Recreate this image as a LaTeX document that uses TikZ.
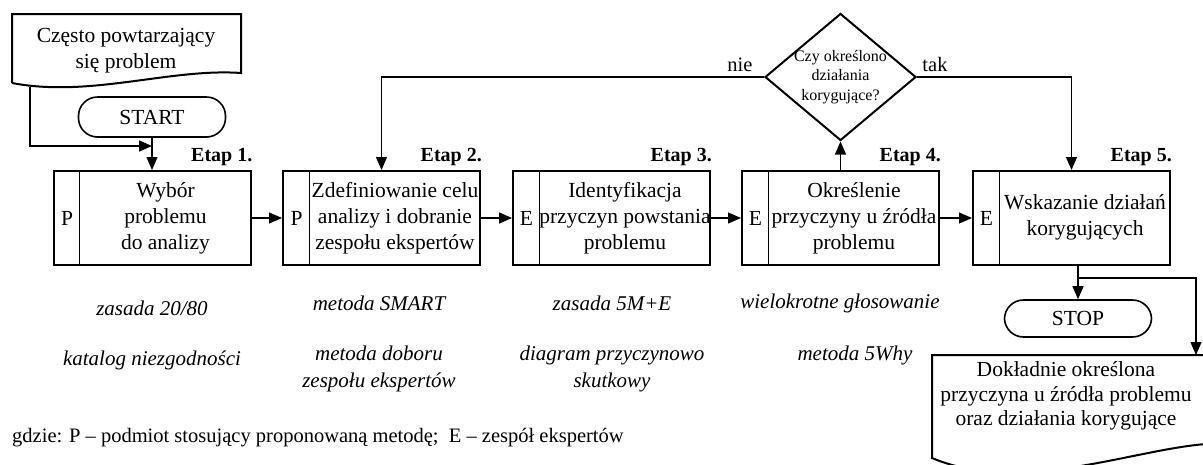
\documentclass[tikz,border=0pt]{standalone}
\usepackage{fontspec}
\setmainfont{Liberation Serif}
\usetikzlibrary{shapes.geometric,arrows.meta}
\begin{document}
\begin{tikzpicture}[x=1pt,y=-1pt,
  box/.style={draw,line width=2pt,minimum width=197pt,minimum height=94pt,inner sep=0pt},
  divider/.style={line width=1pt},
  maintxt/.style={align=center,inner sep=0pt,font=\fontsize{21.5}{26}\selectfont},
  letter/.style={inner sep=0pt,font=\fontsize{21.5}{26}\selectfont},
  etap/.style={inner sep=0pt,anchor=base east,font=\fontsize{20}{24}\selectfont\bfseries},
  term/.style={draw,line width=1.6pt,rounded corners=19pt,minimum width=147pt,inner sep=0pt,font=\fontsize{21.5}{26}\selectfont},
  docline/.style={line width=2pt,line join=miter},
  conn/.style={line width=1.2pt,-{Triangle[length=13pt,width=11pt]}},
  plain/.style={line width=1.2pt},
  dec/.style={draw,diamond,line width=2pt,minimum width=151pt,minimum height=127pt,inner sep=0pt},
  dectxt/.style={align=center,inner sep=0pt,font=\fontsize{16}{19.5}\selectfont},
  lbl/.style={inner sep=0pt,font=\fontsize{20.5}{24}\selectfont},
  meth/.style={align=center,inner sep=0pt,font=\fontsize{21}{27}\selectfont\itshape},
  note/.style={inner sep=0pt,anchor=west,font=\fontsize{20.5}{24}\selectfont}
]
\useasboundingbox (0,0) rectangle (1203,464);

% input document
\draw[docline] (12,83) -- (12,14) -- (241,14) -- (241,73) .. controls (170,68) and (90,98) .. (12,83);
\node[maintxt] (docA) at (126,51) {Często powtarzający\\się problem};
\coordinate (dA) at (30,86.5);

% start
\node[term,minimum height=40pt] (start) at (152,117) {START};

% boxes
\foreach \n/\cx in {1/152,2/381.5,3/611.5,4/840.5,5/1071.5}{
  \node[box] (b\n) at (\cx,218) {};
  \draw[divider] ([xshift=27pt]b\n.north west) -- ([xshift=27pt]b\n.south west);
  \node[etap] (e\n) at ([xshift=1pt,yshift=8.5pt]b\n.north east) {Etap \n.};
}
\node[letter] (l1) at ([xshift=-85pt]b1.center) {P};
\node[letter] (l2) at ([xshift=-85pt]b2.center) {P};
\node[letter] (l3) at ([xshift=-85pt]b3.center) {E};
\node[letter] (l4) at ([xshift=-85pt]b4.center) {E};
\node[letter] (l5) at ([xshift=-85pt]b5.center) {E};
\node[maintxt] (t1) at ([xshift=13.5pt]b1.center) {Wybór\\problemu\\do analizy};
\node[maintxt] (t2) at ([xshift=13.5pt]b2.center) {Zdefiniowanie celu\\analizy i dobranie\\zespołu ekspertów};
\node[maintxt] (t3) at ([xshift=13.5pt]b3.center) {Identyfikacja\\przyczyn powstania\\problemu};
\node[maintxt] (t4) at ([xshift=13.5pt]b4.center) {Określenie\\przyczyny u źródła\\problemu};
\node[maintxt] (t5) at ([xshift=13.5pt,yshift=1pt]b5.center) {Wskazanie działań\\korygujących};

% decision
\node[dec] (dec) at (840.5,77) {};
\node[dectxt] (dect) at (dec.center) {Czy określono\\działania\\korygujące?};
\node[lbl] (nie) at (740,65) {nie};
\node[lbl] (tak) at (935,64) {tak};

% stop and output document
\node[term,minimum height=37pt] (stop) at (1078,318.5) {STOP};
\draw[docline] (932,355) -- (932,458) .. controls (1020,495) and (1130,450) .. (1206,444) -- (1206,355) -- cycle;
\node[maintxt,font=\fontsize{21.5}{24.5}\selectfont] (docB) at (1066,396) {Dokładnie określona\\przyczyna u źródła problemu\\oraz działania korygujące};

% connectors
\coordinate (j1) at (152,146);
\draw[conn] (start.south) -- (b1.north);
\draw[conn] (dA) |- (j1);
\draw[conn] (b1.east) -- (b2.west);
\draw[conn] (b2.east) -- (b3.west);
\draw[conn] (b3.east) -- (b4.west);
\draw[conn] (b4.east) -- (b5.west);
\draw[conn] (b4.north) -- (dec.south);
\draw[conn] (dec.west) -| (b2.north);
\draw[conn] (dec.east) -| (b5.north);
\draw[conn] (stop.north |- b5.south) -- (stop.north);
\coordinate (j2) at (1078,278);
\coordinate (dBt) at (1196,355);
\draw[conn] (j2) -| (dBt);

% methods
\node[meth] (m1a) at (152,308) {zasada 20/80};
\node[meth] (m1b) at (152,360) {katalog niezgodności};
\node[meth] (m2a) at (379,303) {metoda SMART};
\node[meth] (m2b) at (379,369) {metoda doboru\\zespołu ekspertów};
\node[meth] (m3a) at (612,303) {zasada 5M+E};
\node[meth] (m3b) at (612,369) {diagram przyczynowo\\skutkowy};
\node[meth] (m4a) at (840,303) {wielokrotne głosowanie};
\node[meth] (m4b) at (855,355) {metoda 5Why};

\node[note] (gdzie) at (12,438) {gdzie: P – podmiot stosujący proponowaną metodę;\ \ E – zespół ekspertów};
\end{tikzpicture}
\end{document}
